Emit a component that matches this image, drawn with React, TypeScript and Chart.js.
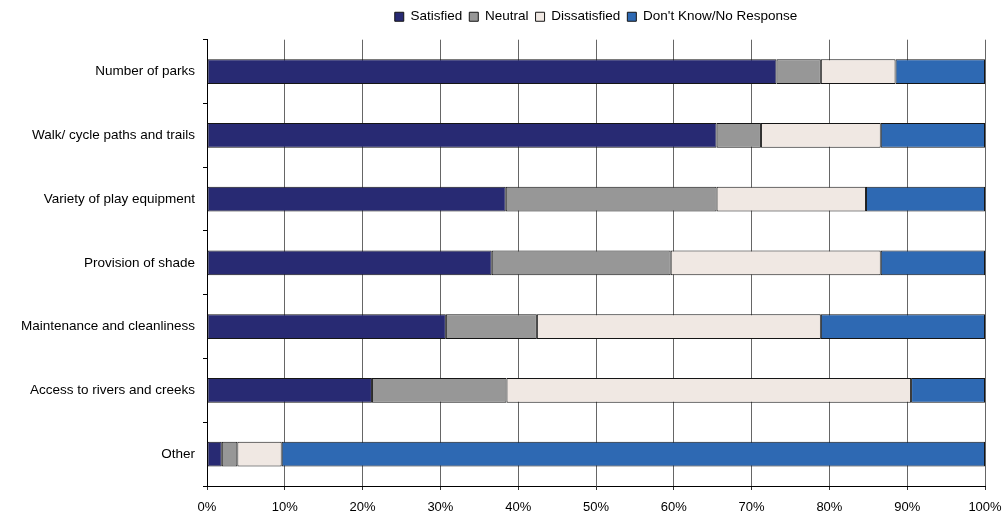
import React, { useEffect, useRef } from "react";
import { Chart, registerables } from "chart.js";

Chart.register(...registerables);

const categories = [
  "Number of parks",
  "Walk/ cycle paths and trails",
  "Variety of play equipment",
  "Provision of shade",
  "Maintenance and cleanliness",
  "Access to rivers and creeks",
  "Other",
];
const satisfied = [73.2, 65.5, 38.4, 36.6, 30.7, 21.2, 1.9];
const neutral = [5.7, 5.7, 27.1, 23.0, 11.7, 17.3, 2.0];
const dissatisfied = [9.6, 15.4, 19.2, 27.0, 36.5, 52.0, 5.7];
const dontKnow = [11.5, 13.4, 15.3, 13.4, 21.1, 9.5, 90.4];
const seriesNames = ["Satisfied", "Neutral", "Dissatisfied", "Don't Know/No Response"];
const seriesColors = ["#282A73", "#979797", "#F0E8E3", "#2E69B3"];
const xTickValues = [0, 10, 20, 30, 40, 50, 60, 70, 80, 90, 100];

const FONT = "'Liberation Sans', Arial, sans-serif";

export default function App() {
  const ref = useRef<HTMLCanvasElement | null>(null);
  useEffect(() => {
    if (!ref.current) return;
    const series = [satisfied, neutral, dissatisfied, dontKnow];
    const chart = new Chart(ref.current, {
      type: "bar",
      data: {
        labels: categories,
        datasets: series.map((d, i) => ({
          label: seriesNames[i],
          data: d,
          backgroundColor: seriesColors[i],
          borderColor: "#151515",
          borderWidth: 1,
          borderSkipped: false,
          barPercentage: 0.39,
          categoryPercentage: 1,
        })),
      },
      options: {
        indexAxis: "y",
        responsive: false,
        animation: false,
        layout: { padding: { top: 3, right: 18, bottom: 0, left: 0 } },
        plugins: {
          tooltip: { enabled: false },
          title: {
            display: true,
            text: "",
            fullSize: false,
            weight: 500,
            font: { size: 1 },
            padding: { top: 0, bottom: 5 },
          },
          legend: {
            position: "top",
            fullSize: false,
            labels: {
              boxWidth: 9,
              boxHeight: 9,
              padding: 7,
              color: "#000",
              font: { family: FONT, size: 13.5 },
            },
          },
        },
        scales: {
          x: {
            stacked: true,
            min: 0,
            max: 100,
            afterBuildTicks: (scale: any) => {
              scale.ticks = xTickValues.map((v) => ({ value: v }));
            },
            afterFit: (scale: any) => {
              scale.height = 32;
              scale.paddingLeft = 0;
              scale.paddingRight = 0;
            },
            ticks: {
              callback: (v: any) => v + "%",
              color: "#000",
              padding: 10,
              maxRotation: 0,
              font: { family: FONT, size: 13 },
            },
            grid: {
              color: "#666",
              lineWidth: 1,
              tickLength: 4,
              tickColor: "#333",
            },
            border: { color: "#000", width: 1 },
          },
          y: {
            stacked: true,
            afterFit: (scale: any) => {
              scale.width = 207;
            },
            ticks: {
              color: "#000",
              padding: 8,
              font: { family: FONT, size: 13.5 },
            },
            grid: {
              offset: true,
              drawOnChartArea: false,
              tickLength: 4,
              color: "#000",
            },
            border: { color: "#000", width: 1 },
          },
        },
      },
    });
    return () => chart.destroy();
  }, []);
  return (
    <div style={{ position: "absolute", left: 0, top: 0, width: 1003, height: 518, background: "#fff" }}>
      <canvas ref={ref} width={1003} height={518} />
    </div>
  );
}
